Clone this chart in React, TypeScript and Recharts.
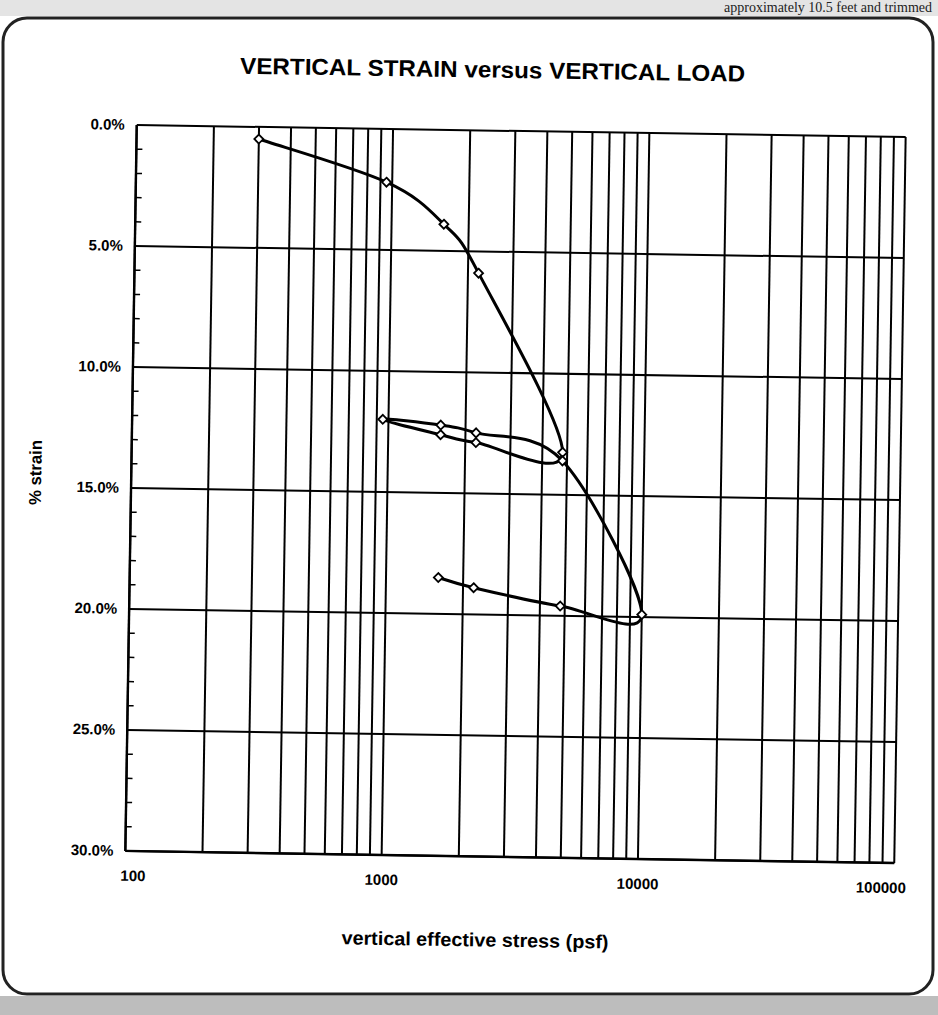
import { CartesianGrid, Line, LineChart, XAxis, YAxis } from "recharts";

// load sequence: loading, unload/reload loop at ~4800 psf, load to 10000, final unload
const STRESS_PSF = [300, 950, 1600, 2200, 4800, 2200, 1600, 950, 1600, 2200, 4800, 10000, 4800, 2200, 1600];
const STRAIN_PCT = [0.5, 2.2, 3.9, 5.9, 13.25, 12.9, 12.6, 12.0, 12.2, 12.5, 13.6, 19.9, 19.6, 18.9, 18.5];

const X_GRID = [
  100, 200, 300, 400, 500, 600, 700, 800, 900,
  1000, 2000, 3000, 4000, 5000, 6000, 7000, 8000, 9000,
  10000, 20000, 30000, 40000, 50000, 60000, 70000, 80000, 90000,
  100000,
];
const X_LABELS = [100, 1000, 10000, 100000];
const Y_MAJOR = [0, 5, 10, 15, 20, 25, 30];
const Y_MINOR = Array.from({ length: 31 }, (_, i) => i);

const W = 938;
const H = 1015;
const PLOT_LEFT = 131;
const PLOT_RIGHT = 900;
const PLOT_TOP = 131;
const PLOT_BOTTOM = 857;

const FONT = "'Liberation Sans', Arial, sans-serif";

const data = STRESS_PSF.map((stress, i) => ({ stress, strain: STRAIN_PCT[i] }));

// Excel-like smoothed line (Catmull-Rom through the points, in drawing order)
function smoothCurve(context: any) {
  let pts: [number, number][] = [];
  return {
    areaStart() {},
    areaEnd() {},
    lineStart() {
      pts = [];
    },
    point(x: number, y: number) {
      pts.push([+x, +y]);
    },
    lineEnd() {
      const n = pts.length;
      if (!n) return;
      context.moveTo(pts[0][0], pts[0][1]);
      for (let i = 0; i < n - 1; i++) {
        const p0 = pts[Math.max(i - 1, 0)];
        const p1 = pts[i];
        const p2 = pts[i + 1];
        const p3 = pts[Math.min(i + 2, n - 1)];
        context.bezierCurveTo(
          p1[0] + (p2[0] - p0[0]) / 6,
          p1[1] + (p2[1] - p0[1]) / 6,
          p2[0] - (p3[0] - p1[0]) / 6,
          p2[1] - (p3[1] - p1[1]) / 6,
          p2[0],
          p2[1],
        );
      }
    },
  };
}

function Diamond(props: any) {
  const { cx, cy, index } = props;
  const r = 4.5;
  return (
    <path
      key={`d-${index}`}
      d={`M${cx},${cy - r}L${cx + r},${cy}L${cx},${cy + r}L${cx - r},${cy}Z`}
      fill="#fff"
      stroke="#000"
      strokeWidth={1.8}
    />
  );
}

function XTick(props: any) {
  const { x, payload } = props;
  const v = payload.value;
  if (!X_LABELS.includes(v)) return <g />;
  const dx = v === 100 ? 8 : v === 100000 ? -13 : 0;
  return (
    <text
      x={x + dx}
      y={PLOT_BOTTOM + 30}
      textAnchor="middle"
      fontFamily={FONT}
      fontWeight="bold"
      fontSize={15}
      fill="#000"
    >
      {v}
    </text>
  );
}

function YTick(props: any) {
  const { y, payload } = props;
  const v = payload.value;
  return (
    <g>
      {v % 5 !== 0 && (
        <line x1={PLOT_LEFT} x2={PLOT_LEFT + 6} y1={y} y2={y} stroke="#000" strokeWidth={1.5} />
      )}
      {v % 5 === 0 && (
        <text
          x={PLOT_LEFT - 12}
          y={y + 5}
          textAnchor="end"
          fontFamily={FONT}
          fontWeight="bold"
          fontSize={15}
          fill="#000"
        >
          {`${v.toFixed(1)}%`}
        </text>
      )}
    </g>
  );
}

export default function App() {
  return (
    <div style={{ position: "absolute", left: 0, top: 0, width: W, height: H, background: "#fff", overflow: "hidden" }}>
      {/* scanned page frame */}
      <svg width={W} height={H} style={{ position: "absolute", left: 0, top: 0 }}>
        <rect x={0} y={0} width={W} height={16} fill="#e4e4e4" />
        <rect x={0} y={996} width={W} height={19} fill="#bdbdbd" />
        <text x={932} y={12} textAnchor="end" fontFamily="'Liberation Serif', serif" fontSize={14} fill="#222">
          approximately 10.5 feet and trimmed
        </text>
        <rect x={3} y={18} width={930} height={976} rx={24} fill="#fff" stroke="#222" strokeWidth={3} />
      </svg>

      <div
        style={{
          position: "absolute",
          left: 0,
          top: 0,
          width: W,
          height: H,
          transform: "rotate(0.9deg)",
          transformOrigin: "515px 494px",
        }}
      >
        <LineChart
          width={W}
          height={H}
          data={data}
          margin={{ top: PLOT_TOP, right: W - PLOT_RIGHT, left: 0, bottom: 0 }}
        >
          <CartesianGrid
            stroke="#000"
            strokeWidth={2}
            horizontalValues={Y_MAJOR}
            fill="none"
          />
          <XAxis
            dataKey="stress"
            type="number"
            scale="log"
            domain={[100, 100000]}
            allowDataOverflow
            ticks={X_GRID}
            interval={0}
            tick={<XTick />}
            tickLine={false}
            axisLine={{ stroke: "#000", strokeWidth: 2.4 }}
            height={H - PLOT_BOTTOM}
          />
          <YAxis
            type="number"
            domain={[0, 30]}
            reversed
            ticks={Y_MINOR}
            interval={0}
            tick={<YTick />}
            tickLine={false}
            axisLine={{ stroke: "#000", strokeWidth: 2.4 }}
            width={PLOT_LEFT}
          />
          <Line
            dataKey="strain"
            type={smoothCurve as any}
            stroke="#000"
            strokeWidth={3}
            dot={Diamond}
            activeDot={false}
            isAnimationActive={false}
          />
        </LineChart>

        <svg width={W} height={H} style={{ position: "absolute", left: 0, top: 0, pointerEvents: "none" }}>
          <text
            x={486}
            y={78}
            textAnchor="middle"
            fontFamily={FONT}
            fontWeight="bold"
            fontSize={23}
            textLength={505}
            lengthAdjust="spacingAndGlyphs"
          >
            VERTICAL STRAIN versus VERTICAL LOAD
          </text>
          <text
            x={482}
            y={947}
            textAnchor="middle"
            fontFamily={FONT}
            fontWeight="bold"
            fontSize={19}
            textLength={267}
            lengthAdjust="spacingAndGlyphs"
          >
            vertical effective stress (psf)
          </text>
          <text
            x={0}
            y={0}
            transform="translate(41 480) rotate(-90)"
            textAnchor="middle"
            fontFamily={FONT}
            fontWeight="bold"
            fontSize={17}
            textLength={65}
            lengthAdjust="spacingAndGlyphs"
          >
            % strain
          </text>
        </svg>
      </div>
    </div>
  );
}
